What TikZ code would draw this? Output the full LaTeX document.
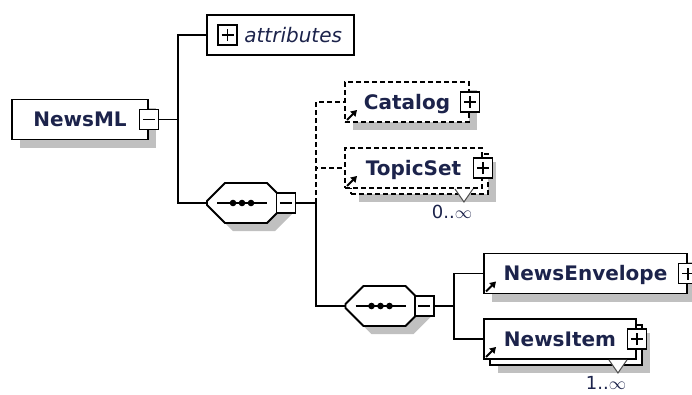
\documentclass[tikz,border=0pt]{standalone}
\usepackage{fontspec}
\setmainfont{DejaVu Sans}
\usepackage{tikz}
\usetikzlibrary{arrows.meta, positioning, shapes.misc, shadows}
\definecolor{xsdtext}{RGB}{28, 35, 75}
\definecolor{shadowgray}{RGB}{192, 192, 192}

\begin{document}
\begin{tikzpicture}[
  x=1pt, y=-1pt,
  line width=1.9pt,
  shade/.style={drop shadow={shadow xshift=#1, shadow yshift=-#1,
    fill=shadowgray, opacity=1}},
  shade/.default=8pt,
  elem/.style={draw, fill=white, minimum height=40pt, inner xsep=6pt,
    text height=14pt, text depth=0pt, text=xsdtext,
    font=\fontsize{20}{22}\selectfont\bfseries},
  optional/.style={dash pattern=on 5pt off 3pt},
  multi/.style={general shadow={shadow xshift=6pt, shadow yshift=-6pt,
    draw=black, fill=white}},
  seq/.style={chamfered rectangle, chamfered rectangle xsep=9pt,
    chamfered rectangle ysep=9pt,
    text width=60pt, text height=22pt, text depth=0pt, inner sep=0pt,
    draw, fill=white, shade,
    path picture={
      \draw[line width=1.4pt] ([xshift=-29pt]path picture bounding box.center)
        -- ([xshift=21pt]path picture bounding box.center);
      \foreach \dx in {-13,-4,5}
        \fill[black] ([xshift=\dx pt]path picture bounding box.center) circle (3.3pt);
    }},
  toggle/.style={draw, fill=white, minimum width=19pt, minimum height=20pt,
    inner sep=0pt},
  minusbox/.style={toggle, path picture={
      \draw ([xshift=-6pt]path picture bounding box.center)
        -- ([xshift=6pt]path picture bounding box.center);
    }},
  plusbox/.style={toggle, path picture={
      \draw ([xshift=-6pt]path picture bounding box.center)
        -- ([xshift=6pt]path picture bounding box.center);
      \draw ([yshift=-6pt]path picture bounding box.center)
        -- ([yshift=6pt]path picture bounding box.center);
    }},
  card/.style={text=xsdtext, font=\fontsize{18}{20}\selectfont, inner sep=1pt},
  refarrow/.style={line width=2pt, -{Triangle[length=6pt, width=7pt]}},
]
  \useasboundingbox (0,0) rectangle (692,394);

  % Root element
  \node[elem, shade, minimum width=136pt] (newsml) at (80,119.5) {NewsML};
  \node[minusbox] (newsmltog) at (newsml.east) {};

  % Attribute group
  \node[elem, minimum width=147pt, text width=123pt, inner xsep=12pt, align=right,
    font=\fontsize{20}{22}\selectfont\itshape] (attr) at (280.5,35) {attributes};
  \node[plusbox, right=11pt of attr.west] (attrtog) {};

  % Outer sequence
  \node[seq] (seqa) at (246,203) {};
  \node[minusbox] (seqatog) at (seqa.east) {};

  % Optional children
  \node[elem, optional, shade, minimum width=124pt] (catalog) at (407,102) {Catalog};
  \node[plusbox] (catalogtog) at (catalog.east) {};
  \node[elem, optional, shade=14pt, multi, minimum width=137pt] (topicset) at (413.5,168) {TopicSet};
  \node[plusbox] (topicsettog) at (topicset.east) {};

  % Inner sequence
  \node[seq] (seqb) at (384.5,306) {};
  \node[minusbox] (seqbtog) at (seqb.east) {};

  \node[elem, shade, minimum width=203pt] (envelope) at (585.5,273.5) {NewsEnvelope};
  \node[plusbox] (envelopetog) at (envelope.east) {};
  \node[elem, shade=14pt, multi, minimum width=152pt] (item) at (560,339) {NewsItem};
  \node[plusbox] (itemtog) at (item.east) {};

  % Branch points
  \coordinate (busa) at (178,119.5);
  \coordinate (busb) at (316,203);
  \coordinate (busc) at (454,306);

  % Connectors
  \draw (newsmltog) -- (busa);
  \draw (attr.west) -| (busa) |- (seqa.west);
  \draw (seqatog) -- (busb);
  \draw[optional] (busb) |- (catalog.west);
  \draw[optional] (busb) |- (topicset.west);
  \draw (busb) |- (seqb.west);
  \draw (seqbtog) -- (busc);
  \draw (busc) |- (envelope.west);
  \draw (busc) |- (item.west);

  % Reference arrows
  \foreach \n in {catalog, topicset, envelope, item}
    \draw[refarrow] ([shift={(3,-3)}]\n.south west) -- ++(10,-10);

  % Occurrence marks
  \foreach \n/\occ in {topicset/0..$\infty$, item/1..$\infty$} {
    \draw[line width=1pt, draw=black!70, fill=white]
      ([xshift=-28pt]\n.south east) -- ++(9,13) -- ++(9,-13);
    \node[card] (\n card) at ([shift={(-31,23)}]\n.south east) {\occ};
  }

\end{tikzpicture}
\end{document}
